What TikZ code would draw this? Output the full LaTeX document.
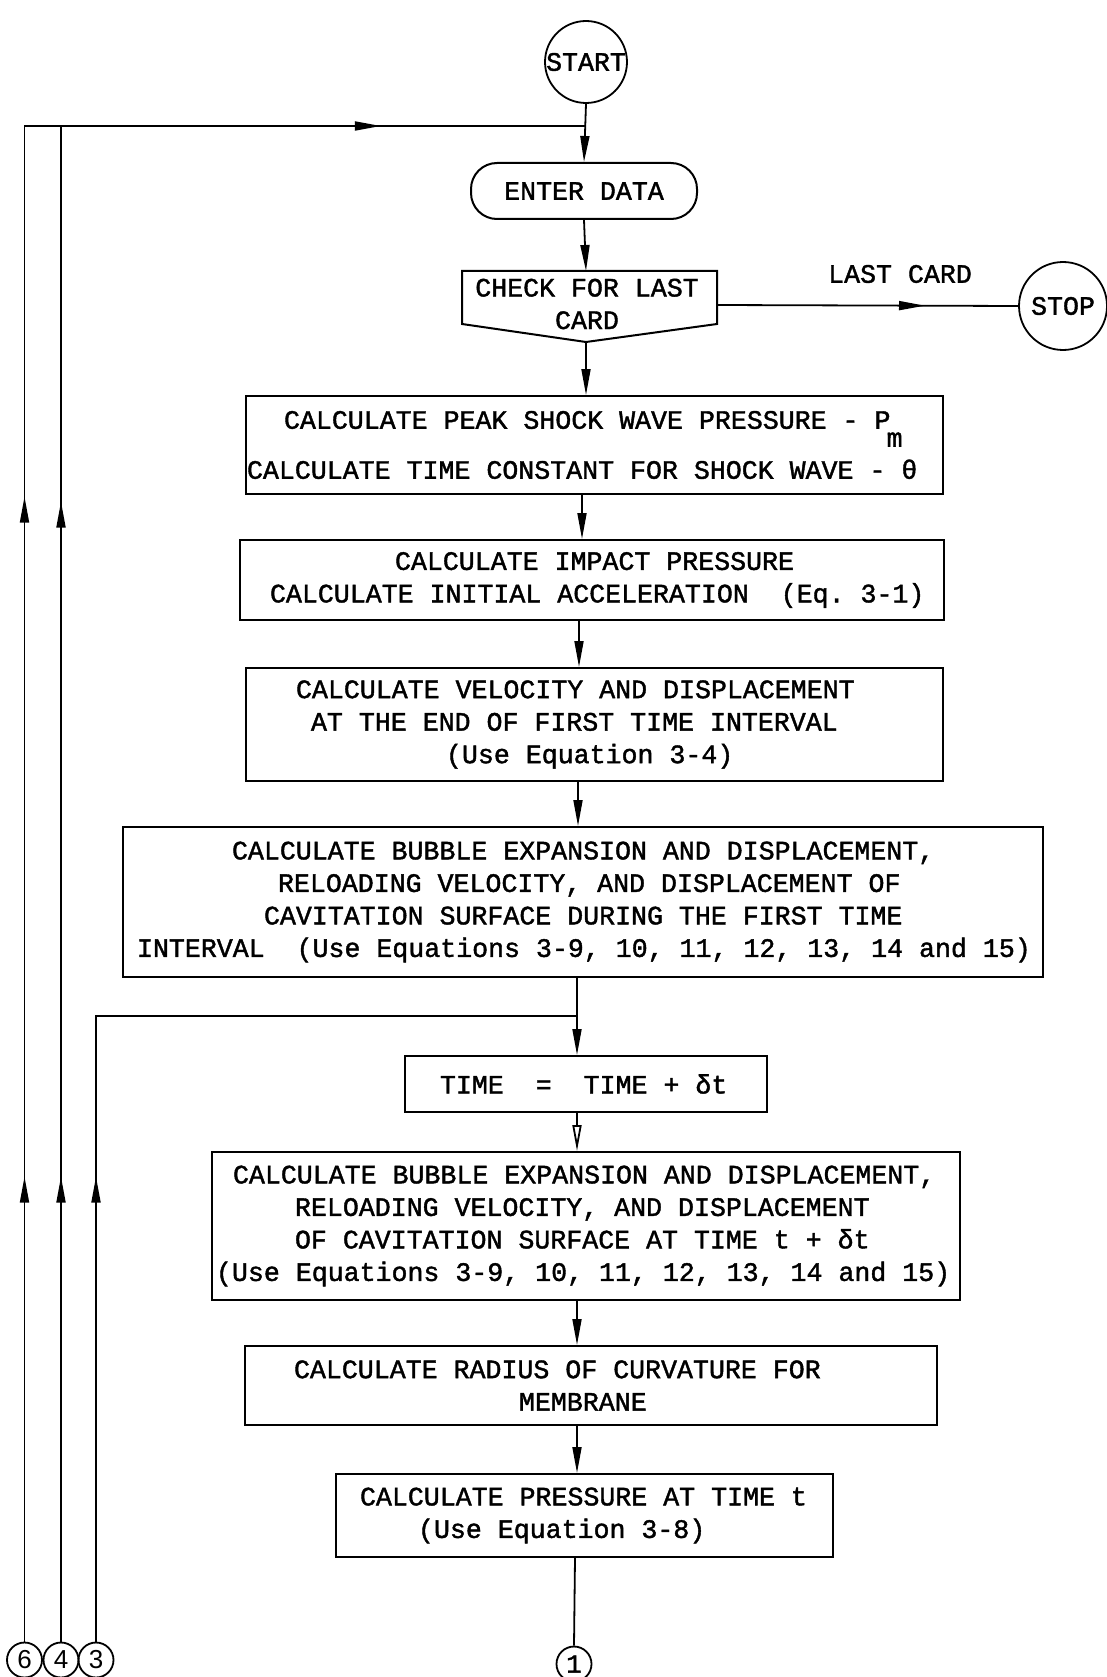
\documentclass[tikz,border=0pt]{standalone}
\usepackage{fontspec}
\setmainfont{Liberation Serif}
\setmonofont{Liberation Mono}[FakeBold=1.5]
\newfontfamily\digitfont{Liberation Sans}
\usetikzlibrary{arrows.meta,decorations.markings}
% one typed line, indented by #1 pt from the left edge of its box
\newcommand\lineat[2]{\hspace*{#1pt}\mbox{\spaceskip=0pt\xspaceskip=0pt #2}}
\newcommand\midtip{\arrow{Triangle[length=26pt,width=9pt]}}
\begin{document}
\begin{tikzpicture}[x=1pt,y=-1pt,
  lbl/.style={font=\ttfamily\fontsize{26.6}{32.5}\selectfont},
  box/.style={draw, line width=2pt, rectangle, inner xsep=0pt, inner ysep=0pt, align=flush left, lbl},
  line/.style={line width=1.8pt},
  flow/.style={line, -{Triangle[length=26pt,width=9pt]}},
  oflow/.style={line, -{Triangle[open,length=26pt,width=9pt]}},
  term/.style={draw, circle, line width=1.8pt, inner sep=0pt, lbl},
  conn/.style={draw, circle, line width=1.8pt, inner sep=0pt, minimum size=35pt,
    font=\digitfont\fontsize{26}{26}\selectfont},
  conntt/.style={draw, circle, line width=1.8pt, inner sep=0pt, minimum size=35pt,
    font=\ttfamily\fontsize{26}{26}\selectfont}
]
\useasboundingbox[fill=white] (0,0) rectangle (1106,1677);

% axis positions of the vertical flow
\coordinate (x1) at (582,0);
\coordinate (x2) at (579,0);
\coordinate (x3) at (578,0);
\coordinate (x4) at (577,0);
\coordinate (x5) at (575,0);

% terminals and input
\node[term, minimum size=82pt] (start) at (586,62) {START};
\node[draw, line width=2pt, rounded corners=26pt, minimum width=226pt,
      minimum height=56pt, inner sep=0pt, lbl] (enter) at (584,191) {ENTER DATA};

% decision: last card?
\node[lbl, align=center, inner sep=0pt] (chk) at (587,304) {CHECK FOR LAST\\CARD};
\draw[line width=2pt] (462,271) -- (717,271) -- (717,324) -- (586,342) -- (462,324) -- cycle;
\coordinate (chkN) at (586,271);
\coordinate (chkS) at (586,342);
\coordinate (chkE) at (717,305);
\node[term, minimum size=88pt] (stop) at (1063,306) {STOP};
\node[lbl, inner sep=0pt] (lastcard) at (900,274) {LAST CARD};

% process boxes
\node[box, text width=697pt, minimum height=98pt] (b1) at (594.5,445)
  {\lineat{38}{CALCULATE PEAK SHOCK WAVE PRESSURE - P\raisebox{-18pt}[0pt][0pt]{\kern-4pt m}}\\[17.5pt]%
   \lineat{1}{CALCULATE TIME CONSTANT FOR SHOCK WAVE - θ}};
\node[box, text width=704pt, minimum height=80pt] (b2) at (592,580)
  {\lineat{155}{CALCULATE IMPACT PRESSURE}\\
   \lineat{30}{CALCULATE INITIAL ACCELERATION~ (Eq. 3-1)}};
\node[box, text width=697pt, minimum height=113pt] (b3) at (594.5,724.5)
  {\lineat{50}{CALCULATE VELOCITY AND DISPLACEMENT}\\
   \lineat{65}{AT THE END OF FIRST TIME INTERVAL}\\
   \lineat{200}{(Use Equation 3-4)}};
\node[box, text width=920pt, minimum height=150pt] (b4) at (583,902)
  {\lineat{109}{CALCULATE BUBBLE EXPANSION AND DISPLACEMENT,}\\
   \lineat{155}{RELOADING VELOCITY, AND DISPLACEMENT OF}\\
   \lineat{141}{CAVITATION SURFACE DURING THE FIRST TIME}\\
   \lineat{14}{INTERVAL~ (Use Equations 3-9, 10, 11, 12, 13, 14 and 15)}};
\node[box, text width=362pt, minimum height=56pt] (time) at (586,1084)
  {\lineat{35}{TIME~ =~ TIME + δt}};
\node[box, text width=748pt, minimum height=148pt] (b5) at (586,1226)
  {\lineat{21}{CALCULATE BUBBLE EXPANSION AND DISPLACEMENT,}\\
   \lineat{83}{RELOADING VELOCITY, AND DISPLACEMENT}\\
   \lineat{83}{OF CAVITATION SURFACE AT TIME t + δt}\\
   \lineat{4}{(Use Equations 3-9, 10, 11, 12, 13, 14 and 15)}};
\node[box, text width=692pt, minimum height=79pt] (b6) at (591,1385.5)
  {\lineat{49}{CALCULATE RADIUS OF CURVATURE FOR}\\
   \lineat{274}{MEMBRANE}};
\node[box, text width=497pt, minimum height=83pt] (b7) at (584.5,1515.5)
  {\lineat{24}{CALCULATE PRESSURE AT TIME t}\\
   \lineat{82}{(Use Equation 3-8)}};

% off-page connectors
\node[conntt] (c1) at (574,1664) {1};
\node[conn] (c6) at (24.5,1660) {6};
\node[conn] (c4) at (61,1660) {4};
\node[conn] (c3) at (96,1660) {3};

% main flow
\coordinate (topj) at (586,126);
\coordinate (loopj) at (577,1016);
\draw[flow] (start.south) -- (enter.north);
\draw[flow] (enter.south) -- (chkN);
\draw[flow] (chkS) -- (chkS |- b1.north);
\draw[flow] (b1.south -| x1) -- (b2.north -| x1);
\draw[flow] (b2.south -| x2) -- (b3.north -| x2);
\draw[flow] (b3.south -| x3) -- (b4.north -| x3);
\draw[flow] (b4.south -| x4) -- (time.north -| x4);
\draw[oflow] (time.south -| x4) -- (b5.north -| x4);
\draw[flow] (b5.south -| x4) -- (b6.north -| x4);
\draw[flow] (b6.south -| x4) -- (b7.north -| x4);
\draw[line] (b7.south -| x5) -- (c1.north);

% last card exit
\draw[line, postaction={decorate},
      decoration={markings, mark=at position 208pt with {\midtip}}]
  (chkE) -- (stop.west);

% return paths
\draw[line, postaction={decorate},
      decoration={markings,
        mark=at position 465pt with {\midtip},
        mark=at position 1145pt with {\midtip},
        mark=at position 1872pt with {\midtip}}]
  (c6.north) |- (topj);
\draw[line, postaction={decorate},
      decoration={markings,
        mark=at position 465pt with {\midtip},
        mark=at position 1140pt with {\midtip}}]
  (c4.north) -- (c4.north |- topj);
\draw[line, postaction={decorate},
      decoration={markings, mark=at position 465pt with {\midtip}}]
  (c3.north) |- (loopj);
\end{tikzpicture}
\end{document}
